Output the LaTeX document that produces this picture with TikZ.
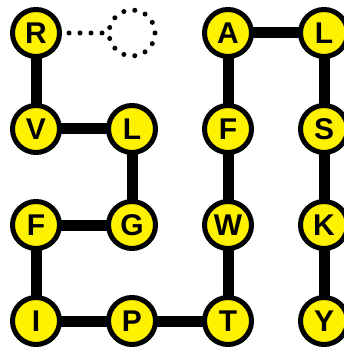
\documentclass[tikz,border=0pt]{standalone}
\usepackage{fontspec}
\setmainfont{Liberation Sans}
\usetikzlibrary{backgrounds}
\tikzset{
  letter/.style={circle, draw=black, line width=5pt, fill=yellow,
                 minimum size=47pt, inner sep=0pt,
                 font=\fontsize{30}{30}\selectfont\bfseries},
  link/.style={line width=11pt},
  hole/.style={circle, draw=black, line width=5pt, minimum size=46pt,
               dash pattern=on 0pt off 11.1pt, line cap=round},
  hint/.style={line width=5pt, dash pattern=on 0pt off 11pt,
               dash phase=4pt, line cap=round}
}

\begin{document}
\begin{tikzpicture}[x=1pt,y=-1pt]
  \useasboundingbox (0,0) rectangle (344,347);
  % letters on a 4x4 grid, 96pt apart
  \foreach \c/\i/\j/\n in {
    R/0/0/r, V/0/1/v, L/1/1/lone, G/1/2/g, F/0/2/fone, I/0/3/i,
    P/1/3/p, T/2/3/t, W/2/2/w, F/2/1/ftwo, A/2/0/a, L/3/0/ltwo,
    S/3/1/s, K/3/2/k, Y/3/3/y}{
    \node[letter] (\n) at (\i*96+36,\j*96+33) {\c};
  }
  \node[hole] (gap) at (132,33) {};

  \begin{scope}[on background layer]
    \foreach \a/\b in {r/v, v/lone, lone/g, g/fone, fone/i, i/p, p/t,
                       t/w, w/ftwo, ftwo/a, a/ltwo, ltwo/s, s/k, k/y}{
      \draw[link] (\a.center) -- (\b.center);
    }
  \end{scope}
  \draw[hint] (r) -- (gap);
\end{tikzpicture}
\end{document}
